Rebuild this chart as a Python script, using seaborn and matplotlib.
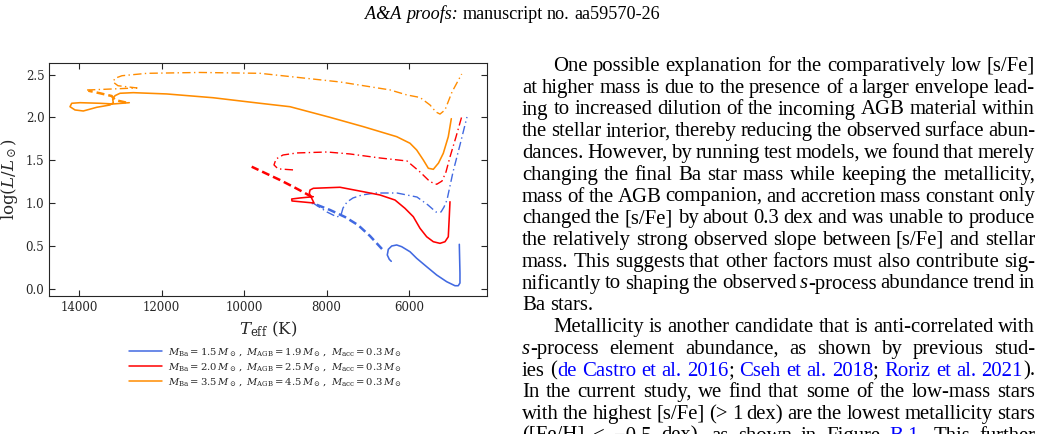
import pandas as pd
import seaborn as sns
import matplotlib.pyplot as plt
from matplotlib.lines import Line2D
from matplotlib.transforms import IdentityTransform

# ---------------------------------
# Track data: Teff (K) and log(L/Lsun)
# pre = before accretion, acc = accretion, post = after accretion
# ---------------------------------
blue_pre_teff = [4781, 4765, 4765, 4806, 4886, 5087, 5329, 5572, 5814, 5976, 6178, 6299, 6420, 6502, 6527, 6478, 6430]
blue_pre_logl = [0.519, 0.183, 0.067, 0.035, 0.035, 0.082, 0.160, 0.257, 0.355, 0.432, 0.491, 0.511, 0.499, 0.460, 0.394, 0.343, 0.320]
blue_acc_teff = [6655, 6946, 7237, 7552, 7916, 8352]
blue_acc_logl = [0.464, 0.616, 0.744, 0.838, 0.920, 1.002]
blue_post_teff = [8328, 7988, 7746, 7649, 7600, 7503, 7358, 7140, 6825, 6291, 5807, 5540, 5346, 5225, 5152, 5080, 4934, 4765, 4595]
blue_post_logl = [1.001, 0.896, 0.838, 0.861, 0.943, 1.013, 1.060, 1.095, 1.118, 1.118, 1.071, 0.978, 0.896, 0.896, 0.954, 1.036, 1.363, 1.679, 2.006]

red_pre_teff = [5007, 5024, 5048, 5128, 5249, 5411, 5572, 5734, 5896, 6098, 6340, 6704, 7108, 7673, 8320, 8400, 8417, 8359, 8303, 8570, 8837, 8844, 8643, 8320]
red_pre_logl = [1.016, 0.841, 0.607, 0.549, 0.530, 0.549, 0.607, 0.706, 0.841, 0.939, 1.036, 1.095, 1.133, 1.185, 1.173, 1.153, 1.114, 1.056, 1.001, 1.013, 1.025, 1.048, 1.060, 1.075]
red_acc_teff = [8352, 8570, 8812, 9128, 9297, 9814]
red_acc_logl = [1.071, 1.130, 1.192, 1.270, 1.308, 1.425]
red_post_teff = [8812, 9176, 9273, 9224, 9055, 8715, 7988, 7431, 6704, 6049, 5734, 5491, 5329, 5200, 5104, 5007, 4862, 4723]
red_post_logl = [1.388, 1.400, 1.446, 1.515, 1.562, 1.586, 1.597, 1.574, 1.527, 1.492, 1.364, 1.250, 1.220, 1.258, 1.364, 1.539, 1.772, 2.009]

orange_pre_teff = [4975, 5048, 5169, 5285, 5411, 5532, 5654, 5814, 5976, 6299, 7108, 7916, 8885, 9612, 10752, 11874, 12684, 13006,
                   13127, 13183, 13169, 13249, 13571, 13896, 14097, 14218, 14177, 13976, 13491, 13169, 12781]
orange_pre_logl = [1.986, 1.776, 1.582, 1.468, 1.395, 1.407, 1.504, 1.620, 1.699, 1.776, 1.893, 2.002, 2.126, 2.166, 2.231, 2.275, 2.290, 2.283,
                   2.255, 2.213, 2.173, 2.146, 2.119, 2.076, 2.088, 2.126, 2.166, 2.173, 2.166, 2.158, 2.173]
orange_acc_teff = [12861, 13127, 13207, 13491, 13775]
orange_acc_logl = [2.175, 2.204, 2.251, 2.283, 2.313]
orange_post_teff = [13806, 12594, 13055, 13176, 13127, 12958, 12352, 11067, 9612, 7673, 6461, 6049, 5734, 5491, 5346, 5249, 5128, 4958, 4723]
orange_post_logl = [2.321, 2.345, 2.371, 2.415, 2.458, 2.488, 2.516, 2.526, 2.516, 2.415, 2.322, 2.263, 2.234, 2.146, 2.064, 2.040, 2.088, 2.298, 2.508]

model_names = ["1.5", "2.0", "3.5"]
model_colors = ["royalblue", "red", "darkorange"]
legend_labels = [
    r"$M_{\rm Ba}=1.5\,M_\odot\,,\ M_{\rm AGB}=1.9\,M_\odot\,,\ M_{\rm acc}=0.3\,M_\odot$",
    r"$M_{\rm Ba}=2.0\,M_\odot\,,\ M_{\rm AGB}=2.5\,M_\odot\,,\ M_{\rm acc}=0.3\,M_\odot$",
    r"$M_{\rm Ba}=3.5\,M_\odot\,,\ M_{\rm AGB}=4.5\,M_\odot\,,\ M_{\rm acc}=0.3\,M_\odot$",
]

# page text around the figure ({...} = blue link, *...* = italic)
header_text = "*A&A proofs:* manuscript no. aa59570-26"
body_lines = [
    "One possible explanation for the comparatively low [s/Fe]",
    "at higher mass is due to the presence of a larger envelope lead-",
    "ing to increased dilution of the incoming AGB material within",
    "the stellar interior, thereby reducing the observed surface abun-",
    "dances. However, by running test models, we found that merely",
    "changing the final Ba star mass while keeping the metallicity,",
    "mass of the AGB companion, and accretion mass constant only",
    "changed the [s/Fe] by about 0.3 dex and was unable to produce",
    "the relatively strong observed slope between [s/Fe] and stellar",
    "mass. This suggests that other factors must also contribute sig-",
    "nificantly to shaping the observed *s*-process abundance trend in",
    "Ba stars.",
    "Metallicity is another candidate that is anti-correlated with",
    "*s*-process element abundance, as shown by previous stud-",
    "ies ({de Castro et al. 2016}; {Cseh et al. 2018}; {Roriz et al. 2021}).",
    "In the current study, we find that some of the low-mass stars",
    "with the highest [s/Fe] (> 1 dex) are the lowest metallicity stars",
    "([Fe/H] < \u22120.5 dex), as shown in Figure {B.1}. This further",
]
indented_lines = [0, 12]
ragged_lines = [11]

# ---------------------------------
# Build long-format table
# ---------------------------------
tracks = {
    ("1.5", "pre"): (blue_pre_teff, blue_pre_logl),
    ("1.5", "acc"): (blue_acc_teff, blue_acc_logl),
    ("1.5", "post"): (blue_post_teff, blue_post_logl),
    ("2.0", "pre"): (red_pre_teff, red_pre_logl),
    ("2.0", "acc"): (red_acc_teff, red_acc_logl),
    ("2.0", "post"): (red_post_teff, red_post_logl),
    ("3.5", "pre"): (orange_pre_teff, orange_pre_logl),
    ("3.5", "acc"): (orange_acc_teff, orange_acc_logl),
    ("3.5", "post"): (orange_post_teff, orange_post_logl),
}
frames = []
for (model, phase), (teff, logl) in tracks.items():
    frames.append(pd.DataFrame({"Teff": teff, "logL": logl, "model": model, "phase": phase}))
data = pd.concat(frames, ignore_index=True)

# ---------------------------------
# Plot
# ---------------------------------
sns.set_style("ticks")
plt.rcParams["font.family"] = ["DejaVu Serif"]
plt.rcParams["mathtext.fontset"] = "dejavuserif"

W, H = 1041, 434
fig = plt.figure(figsize=(W / 100, H / 100), dpi=100)
ax = fig.add_axes([49.3 / W, (H - 296) / H, (486.7 - 49.3) / W, (296 - 62.7) / H])

palette = dict(zip(model_names, model_colors))
sns.lineplot(data=data, x="Teff", y="logL", hue="model", style="phase", size="phase",
             palette=palette,
             dashes={"pre": "", "acc": (3.2, 1.6), "post": (6, 2.4, 1, 2.4)},
             sizes={"pre": 1.15, "acc": 1.8, "post": 1.0},
             estimator=None, sort=False, legend=False, ax=ax)

ax.set_xlim(14720, 4117)
ax.set_ylim(-0.085, 2.64)
ax.set_xticks([14000, 12000, 10000, 8000, 6000])
ax.set_yticks([0.0, 0.5, 1.0, 1.5, 2.0, 2.5])
ax.tick_params(direction="in", top=True, right=True, length=4, width=0.8, labelsize=8.5)
ax.set_xlabel(r"$T_{\rm eff}$ (K)", fontsize=12)
ax.set_ylabel(r"$\log(L/L_\odot)$", fontsize=12)

handles = [Line2D([], [], color=c, lw=1.1) for c in model_colors]
fig.legend(handles, legend_labels, loc="center", bbox_to_anchor=(266 / W, 1 - 367 / H),
           frameon=False, fontsize=7.2, handlelength=3.3, handletextpad=0.6, labelspacing=0.33)

# ---------------------------------
# Page text (header + justified right column)
# ---------------------------------
renderer = fig.canvas.get_renderer()
px = IdentityTransform()
text_font = "Liberation Serif"


def parse(line):
    words, word, seg = [], [], ""
    blue, italic = False, False

    def flush():
        nonlocal seg
        if seg:
            word.append((seg, "blue" if blue else "black", "italic" if italic else "normal"))
        seg = ""

    for ch in line:
        if ch in "{}*":
            flush()
            if ch == "{":
                blue = True
            elif ch == "}":
                blue = False
            else:
                italic = not italic
        elif ch == " ":
            flush()
            words.append(word)
            word = []
        else:
            seg += ch
    flush()
    words.append(word)
    return words


def make_words(line, size):
    items, widths = [], []
    for word in parse(line):
        segs, w = [], 0
        for txt, color, style in word:
            t = fig.text(0, 0, txt, transform=px, fontsize=size, family=text_font,
                         color=color, style=style, va="baseline")
            sw = t.get_window_extent(renderer).width
            segs.append((t, sw))
            w += sw
        items.append(segs)
        widths.append(w)
    return items, widths


def place(line, y_top, x0, size, x1=None, center=None):
    items, widths = make_words(line, size)
    if x1 is not None and len(items) > 1:
        gap = (x1 - x0 - sum(widths)) / (len(items) - 1)
    else:
        gap = 0.25 * size * 100 / 72
    if center is not None:
        x0 = center - (sum(widths) + gap * (len(items) - 1)) / 2
    x = x0
    for segs in items:
        for t, sw in segs:
            t.set_x(x)
            t.set_y(H - y_top)
            x += sw
        x += gap


def remove_words(items):
    for segs in items:
        for t, _ in segs:
            t.remove()


# fit the body size so the tightest justified line still has ~0.17 em spaces
body_size = 20.0
for k, line in enumerate(body_lines):
    if k in ragged_lines:
        continue
    x0 = 553 if k in indented_lines else 522
    items, widths = make_words(line, 10)
    per_pt = sum(widths) / 10 + (len(items) - 1) * 0.17 * 100 / 72
    body_size = min(body_size, (1035 - x0) / per_pt)
    remove_words(items)

# header fitted to its width in the page
items, widths = make_words(header_text, 10)
head_per_pt = sum(widths) / 10 + (len(items) - 1) * 0.25 * 100 / 72
remove_words(items)
head_size = 295 / head_per_pt

place(header_text, 19, 0, head_size, center=512.5)
for k, line in enumerate(body_lines):
    x0 = 553 if k in indented_lines else 522
    x1 = None if k in ragged_lines else 1035
    place(line, 71 + 21.75 * k, x0, body_size, x1)

fig.savefig("out.png", dpi=100)
